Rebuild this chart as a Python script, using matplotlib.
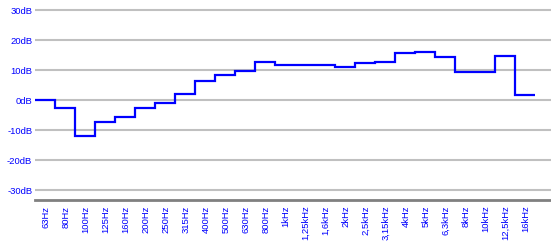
import matplotlib
matplotlib.use("Agg")
import matplotlib.pyplot as plt
import numpy as np

bands = ["63Hz", "80Hz", "100Hz", "125Hz", "160Hz", "200Hz", "250Hz", "315Hz", "400Hz",
         "500Hz", "630Hz", "800Hz", "1kHz", "1,25kHz", "1,6kHz", "2kHz", "2,5kHz",
         "3,15kHz", "4kHz", "5kHz", "6,3kHz", "8kHz", "10kHz", "12,5kHz", "16kHz"]
gain_db = [0.0, -2.6, -12.0, -7.2, -5.8, -2.6, -0.9, 2.0, 6.4, 8.3, 9.8, 12.7, 11.7,
           11.7, 11.7, 11.1, 12.4, 12.8, 15.6, 16.1, 14.4, 9.4, 9.4, 14.8, 1.7]
y_ticks = [-30, -20, -10, 0, 10, 20, 30]
y_labels = ["-30dB", "-20dB", "-10dB", "0dB", "10dB", "20dB", "30dB"]

plt.rcParams['font.family'] = ['Liberation Sans', 'DejaVu Sans']

W, H = 551, 242
fig = plt.figure(figsize=(W / 100, H / 100), dpi=100)
left, right, top, bottom = 35, 551, 7, 200
ax = fig.add_axes([left / W, 1 - bottom / H, (right - left) / W, (bottom - top) / H])

edges = np.arange(len(bands) + 1)
ax.set_xlim(0, (right - left) / 20)
ax.set_ylim(-33.33, 31)

for t in y_ticks:
    ax.axhline(t, color="#C0C0C0", lw=1.5, zorder=1)

ax.stairs(gain_db, edges, baseline=None, color="#0000FF", lw=1.6, zorder=3)

ax.set_yticks(y_ticks)
ax.set_yticklabels(y_labels, color="#0000FF", fontsize=6.8)
ax.set_xticks(edges[:-1] + 0.55)
ax.set_xticklabels(bands, rotation=90, color="#0000FF", fontsize=6.8, va="top")
ax.tick_params(axis="both", length=0, pad=2)
ax.tick_params(axis="x", pad=4)

for s in ["top", "right", "left"]:
    ax.spines[s].set_visible(False)
ax.spines["bottom"].set_color("#808080")
ax.spines["bottom"].set_linewidth(2)

fig.savefig("out.png", dpi=100)
